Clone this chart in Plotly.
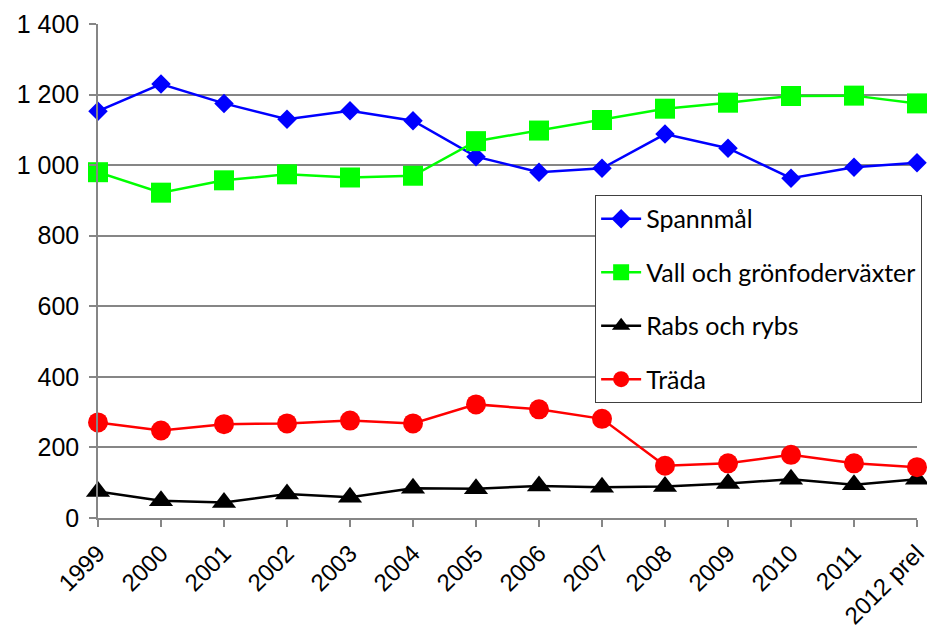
import plotly.graph_objects as go

years = ["1999", "2000", "2001", "2002", "2003", "2004", "2005", "2006",
         "2007", "2008", "2009", "2010", "2011", "2012 prel"]
spannmal = [1153, 1230, 1175, 1130, 1154, 1126, 1024, 980, 991, 1088, 1048, 963, 994, 1007]
vall = [980, 922, 957, 974, 965, 970, 1068, 1098, 1128, 1160, 1177, 1196, 1197, 1175]
rabs = [75, 49, 44, 68, 59, 84, 83, 91, 87, 89, 98, 110, 94, 110]
trada = [271, 248, 266, 268, 276, 268, 322, 308, 281, 148, 155, 179, 155, 144]
y_ticks = [0, 200, 400, 600, 800, 1000, 1200, 1400]
y_tick_text = ["0", "200", "400", "600", "800", "1 000", "1 200", "1 400"]

series = [
    ("Spannmål", spannmal, "#0000FF", "diamond", 15),
    ("Vall och grönfoderväxter", vall, "#00FF00", "square", 20),
    ("Rabs och rybs", rabs, "#000000", "triangle-up", 21),
    ("Träda", trada, "#FF0000", "circle", 20),
]

fig = go.Figure()
for i, (name, vals, color, sym, size) in enumerate(series):
    fig.add_trace(go.Scatter(
        x=years, y=vals, name=name, mode="lines+markers",
        line=dict(color=color, width=2.5),
        marker=dict(symbol=sym, size=size, color=color, line=dict(width=0)),
        cliponaxis=False, legendgroup=f"g{i}",
    ))

# the page body adds an 8px offset, so the figure is 8px smaller and margins shifted
fig.update_layout(
    width=927, height=621,
    margin=dict(l=90, r=18, t=16, b=111),
    paper_bgcolor="white", plot_bgcolor="white",
    font=dict(family="Liberation Sans, Arial", size=25, color="black"),
    showlegend=True,
    legend=dict(
        x=0.607, y=0.654, xanchor="left", yanchor="top",
        bgcolor="white", bordercolor="#404040", borderwidth=1,
        font=dict(family="Lato, Calibri, sans-serif", size=25, color="black"),
        tracegroupgap=18, itemwidth=40,
    ),
)
fig.update_xaxes(
    type="category", range=[0, 13], automargin=False,
    showgrid=False, showline=True, linecolor="#868686", linewidth=1.5,
    ticks="outside", ticklen=7, tickcolor="#868686", tickwidth=1.5,
    tickangle=-45, tickfont=dict(size=24), ticklabelstandoff=3,
)
fig.update_yaxes(
    range=[0, 1400], tickvals=y_ticks, ticktext=y_tick_text, automargin=False,
    showgrid=True, gridcolor="#868686", gridwidth=1.5,
    showline=True, linecolor="#868686", linewidth=1.5,
    ticks="outside", ticklen=7, tickcolor="#868686", tickwidth=1.5,
    zeroline=False, tickfont=dict(size=25), ticklabelstandoff=5,
)

fig.write_html("out.html")
